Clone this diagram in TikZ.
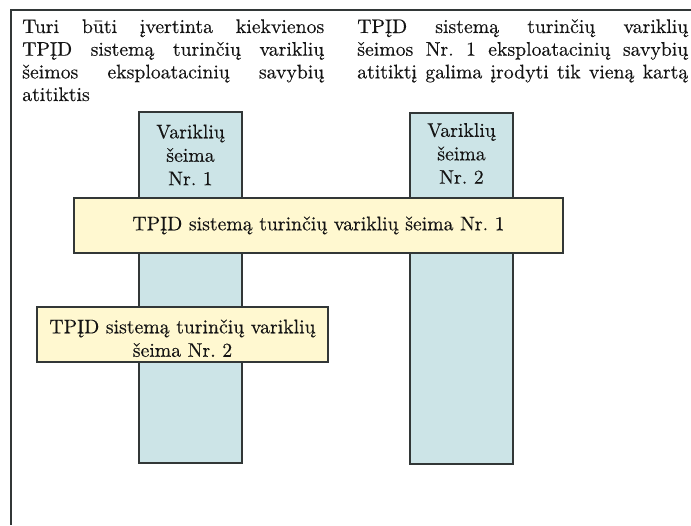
\documentclass[tikz,border=0pt]{standalone}
\usepackage{fontspec}
\setmainfont{lmroman10-regular}[Extension=.otf, FakeBold=0.3]
\definecolor{ink}{RGB}{20,20,20}
\definecolor{edge}{RGB}{50,55,55}
\definecolor{paleblue}{RGB}{204,228,231}
\definecolor{paleyellow}{RGB}{255,248,208}
\begin{document}
\begin{tikzpicture}[x=0.75pt,y=-0.75pt,
  txt/.style={inner sep=0pt, text=ink, font=\fontsize{14.8}{17}\selectfont},
  boxtxt/.style={inner sep=0pt, text=ink, align=center, font=\fontsize{14.8}{17.6}\selectfont},
  frameline/.style={draw=edge, line width=1.5pt},
  column/.style={draw=edge, line width=1.5pt, fill=paleblue, inner sep=0pt,
    minimum width=77.25pt, minimum height=263.25pt},
  familybox/.style={draw=edge, line width=1.5pt, fill=paleyellow, inner sep=0pt,
    minimum height=41.25pt, text=ink, font=\fontsize{14.8}{17.6}\selectfont}]
\useasboundingbox (0,0) rectangle (691,525);
\coordinate (fa) at (691,10);
\coordinate (fb) at (11,525);
\draw[frameline] (fa) -| (fb);
% top texts
\node[txt, anchor=base west] (l1) at (22,33) {\makebox[226.5pt][s]{Turi būti įvertinta kiekvienos}};
\node[txt, anchor=base west] (l2) at (22,55.7) {\makebox[226.5pt][s]{TPĮD sistemą turinčių variklių}};
\node[txt, anchor=base west] (l3) at (22,78.4) {\makebox[226.5pt][s]{šeimos eksploatacinių savybių}};
\node[txt, anchor=base west] (l4) at (22,101) {atitiktis};
\node[txt, anchor=base west] (r1) at (357,33) {\makebox[248.25pt][s]{TPĮD sistemą turinčių variklių}};
\node[txt, anchor=base west] (r2) at (357,55.7) {\makebox[248.25pt][s]{šeimos Nr.\ 1 eksploatacinių savybių}};
\node[txt, anchor=base west] (r3) at (357,78.4) {\makebox[248.25pt][s]{atitiktį galima įrodyti tik vieną kartą}};
% columns
\node[column] (col1) at (190.5,287.5) {};
\node[column] (col2) at (461.5,288) {};
\node[boxtxt, anchor=north] (col1t) at ([yshift=-10pt]col1.north) {Variklių\\šeima\\Nr.~1};
\node[boxtxt, anchor=north] (col2t) at ([yshift=-8.5pt]col2.north) {Variklių\\šeima\\Nr.~2};
% yellow boxes
\node[familybox, minimum width=366.75pt] (fam1) at (318.5,225.5) {TPĮD sistemą turinčių variklių šeima Nr.~1};
\node[familybox, minimum width=218.25pt] (fam2) at (182.5,334.5) {};
\node[boxtxt, anchor=north] (fam2t) at ([yshift=-10pt]fam2.north) {TPĮD sistemą turinčių variklių\\šeima Nr.~2};
\end{tikzpicture}
\end{document}
